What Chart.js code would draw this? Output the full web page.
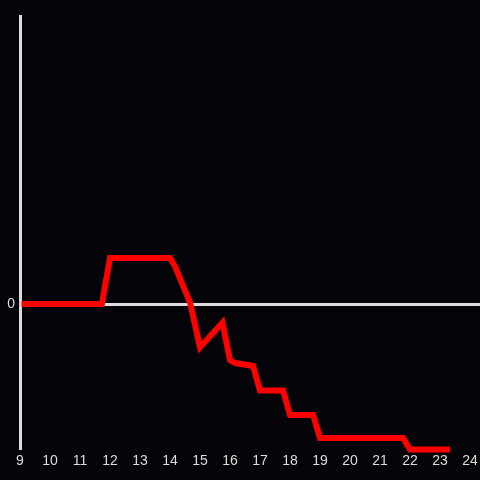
<!DOCTYPE html>
<html>
<head>
<meta charset="utf-8">
<script src="https://cdn.jsdelivr.net/npm/chart.js@4"></script>
<style>
  html, body { margin: 0; padding: 0; background: #050409; }
  canvas { display: block; background: #050409; }
</style>
</head>
<body>
<canvas id="myChart" width="480" height="480"></canvas>
<script>
const hours = [9.05, 11.73, 12.0, 14.0, 14.17, 14.67, 15.0, 15.75, 16.0, 16.17, 16.77, 17.0, 17.77, 18.0, 18.77, 19.0, 21.77, 22.0, 23.33]
const values = [0, 0, 0.32, 0.32, 0.26, 0.01, -0.30, -0.13, -0.39, -0.41, -0.43, -0.60, -0.60, -0.77, -0.77, -0.93, -0.93, -1.01, -1.01]
const xTicks = [9, 10, 11, 12, 13, 14, 15, 16, 17, 18, 19, 20, 21, 22, 23, 24]
const yTicks = [0]

const axisColor = "#dcdcdc"
const ctx = document.getElementById("myChart")

const points = hours.map((h, i) => ({ x: h, y: values[i] }))

new Chart(ctx, {
  type: "line",
  data: {
    datasets: [{
      data: points,
      borderColor: "#ff0000",
      borderWidth: 6,
      pointRadius: 0,
      tension: 0,
      clip: false
    }]
  },
  options: {
    responsive: false,
    animation: false,
    layout: { padding: { top: 16, right: 0, left: 0, bottom: 0 } },
    plugins: { legend: { display: false }, tooltip: { enabled: false } },
    scales: {
      x: {
        type: "linear",
        min: 9,
        max: 24.333,
        afterBuildTicks: axis => { axis.ticks = xTicks.map(v => ({ value: v })) },
        afterFit: axis => {
          axis.height = 32
          axis.paddingRight = 0
          axis.paddingLeft = 0
        },
        grid: { display: false, drawTicks: false },
        border: { display: false },
        ticks: {
          color: axisColor,
          padding: 5,
          maxRotation: 0,
          autoSkip: false,
          font: { family: "Liberation Sans", size: 14 }
        }
      },
      y: {
        min: -1,
        max: 2,
        afterBuildTicks: axis => { axis.ticks = yTicks.map(v => ({ value: v })) },
        afterFit: axis => { axis.width = 20 },
        grid: { color: axisColor, lineWidth: 3, drawTicks: false },
        border: { display: true, color: axisColor, width: 3 },
        ticks: {
          color: axisColor,
          padding: 5,
          font: { family: "Liberation Sans", size: 14 }
        }
      }
    }
  }
})
</script>
</body>
</html>
